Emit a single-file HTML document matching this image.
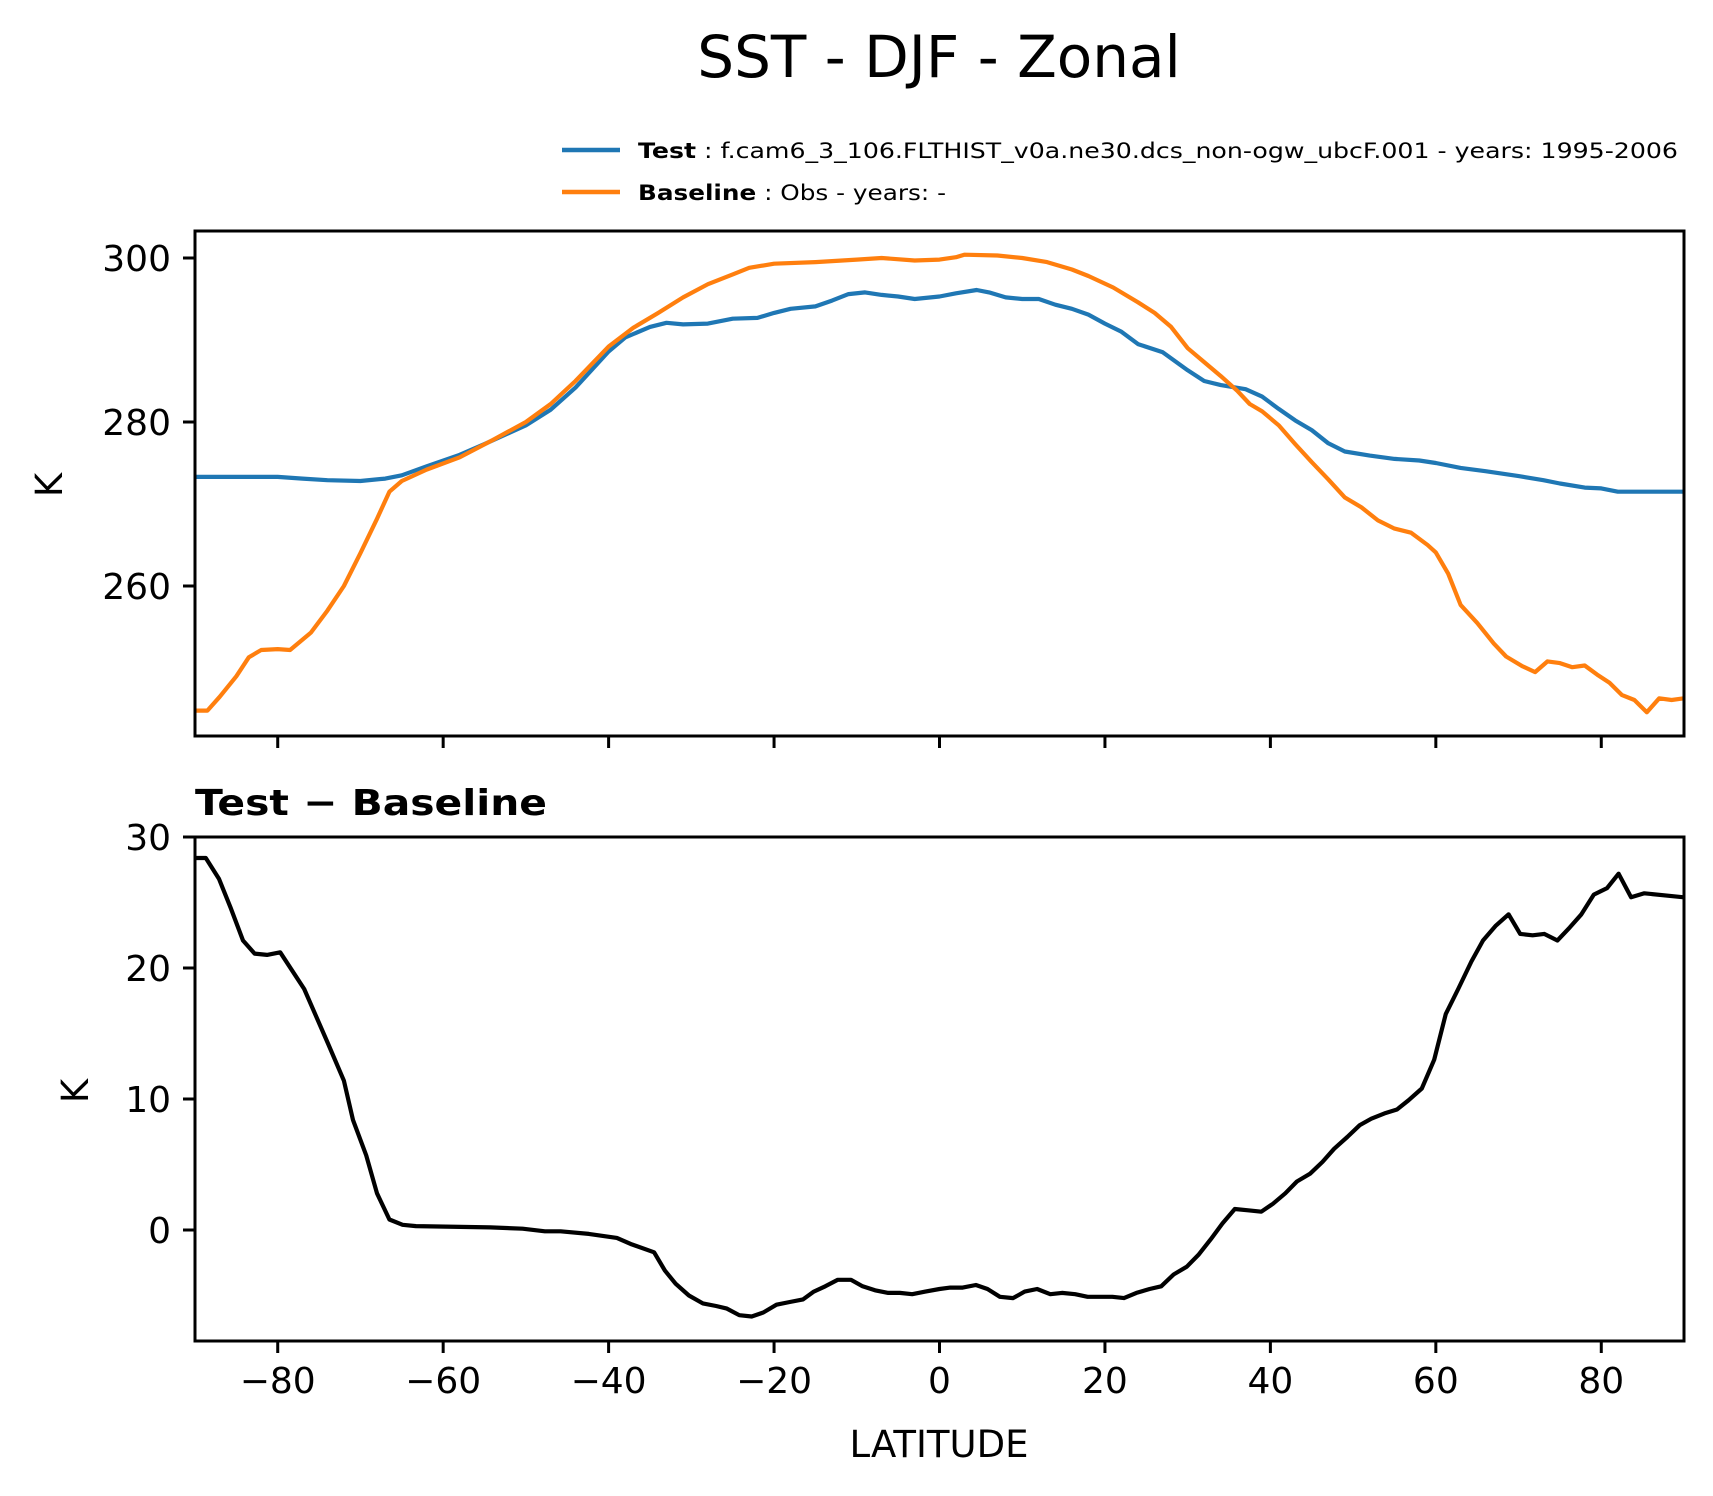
<!DOCTYPE html>
<html><head><meta charset="utf-8"><style>
html,body{margin:0;padding:0;background:#fff;}
svg{display:block;font-family:"DejaVu Sans","Liberation Sans",sans-serif;}
</style></head><body>
<svg id="chart" width="1713" height="1496" viewBox="0 0 1713 1496" xmlns="http://www.w3.org/2000/svg">
<rect width="1713" height="1496" fill="#fff"/>
<text x="939" y="77" font-size="58" text-anchor="middle">SST - DJF - Zonal</text>
<g>
<line x1="562" y1="150" x2="620" y2="150" stroke="#1f77b4" stroke-width="4.5"/>
<text x="638" y="158" font-size="21" textLength="1040" lengthAdjust="spacingAndGlyphs"><tspan font-weight="bold">Test</tspan> : f.cam6_3_106.FLTHIST_v0a.ne30.dcs_non-ogw_ubcF.001 - years: 1995-2006</text>
<line x1="562" y1="192" x2="620" y2="192" stroke="#ff7f0e" stroke-width="4.5"/>
<text x="638" y="200" font-size="21" textLength="308" lengthAdjust="spacingAndGlyphs"><tspan font-weight="bold">Baseline</tspan> : Obs - years: -</text>
</g>
<text x="195" y="815" font-size="36" font-weight="bold" textLength="352" lengthAdjust="spacingAndGlyphs">Test − Baseline</text>
<text x="939" y="1457" font-size="37" text-anchor="middle">LATITUDE</text>
<text transform="translate(62,485) rotate(-90)" font-size="37" text-anchor="middle">K</text>
<text transform="translate(88,1091) rotate(-90)" font-size="37" text-anchor="middle">K</text>
<g id="topPanel"></g>
<g id="botPanel"></g>
</svg>
<script>
const testLat=[-90,-80,-77,-74,-70,-67,-65,-62,-58,-55,-50,-47,-44,-40,-38,-35,-33,-31,-28,-25,-22,-20,-18,-15,-13,-11,-9,-7,-5,-3,0,2,4.5,6,8,10,12,14,16,18,20,22,24,27,30,32,34,37,39,41,43,45,47,49,52,55,58,60,63,66,70,73,75,78,80,82,90];
const testVal=[273.3,273.3,273.1,272.9,272.8,273.1,273.5,274.6,276.0,277.3,279.6,281.5,284.2,288.6,290.3,291.6,292.1,291.9,292.0,292.6,292.7,293.3,293.8,294.1,294.8,295.6,295.8,295.5,295.3,295.0,295.3,295.7,296.1,295.8,295.2,295.0,295.0,294.3,293.8,293.1,292.0,291.0,289.5,288.5,286.3,285.0,284.5,284.0,283.1,281.6,280.2,279.0,277.4,276.4,275.9,275.5,275.3,275.0,274.4,274.0,273.4,272.9,272.5,272.0,271.9,271.5,271.5];
const baseLat=[-90,-88.5,-87,-85,-83.5,-82,-80,-78.5,-76,-74,-72,-70,-68,-66.5,-65,-62,-58,-54,-50,-47,-44,-40,-37,-34,-31,-28,-25,-23,-20,-15,-10,-7,-3,0,2,3,7,10,13,16,18,21,24,26,28,30,32,34,36,37.5,39,41,43,45,47,49,51,53,55,57,59,60,61.5,63,65,67,68.5,70.5,72,73.5,75,76.5,78,79.5,81,82.5,84,85.5,87,88.5,90];
const baseVal=[244.8,244.8,246.5,249,251.3,252.2,252.3,252.2,254.3,257,260,264,268.2,271.5,272.8,274.2,275.7,277.8,280,282.2,285,289.2,291.5,293.3,295.2,296.8,298,298.8,299.3,299.5,299.8,300,299.7,299.8,300.1,300.4,300.3,300,299.5,298.6,297.8,296.4,294.6,293.3,291.6,289,287.3,285.6,283.8,282.2,281.3,279.6,277.3,275.1,273,270.8,269.6,268,267,266.5,265,264.1,261.5,257.7,255.5,253,251.4,250.2,249.5,250.8,250.6,250.1,250.3,249.2,248.2,246.7,246.1,244.6,246.3,246.1,246.3];
const diffLat=[-90,-88.7,-87.1,-85.7,-84.2,-82.8,-81.3,-79.7,-76.8,-73.9,-72,-70.9,-69.3,-68,-66.5,-64.9,-63.3,-54.3,-50.4,-47.7,-45.8,-42.4,-39,-37.2,-34.5,-33.2,-31.9,-30.3,-28.6,-27,-25.7,-24.2,-22.7,-21.3,-19.7,-18.1,-16.5,-15.2,-13.8,-12.3,-10.7,-9.3,-7.8,-6.2,-4.8,-3.3,-1.7,0,1.3,2.8,4.4,5.8,7.3,8.9,10.3,11.8,13.4,14.8,16.4,17.9,19.4,20.9,22.3,23.8,25.4,26.8,28.3,29.9,31.3,32.8,34.2,35.7,37.3,38.9,40.3,41.8,43.2,44.8,46.3,47.7,49.3,50.8,52.2,53.8,55.3,56.7,58.3,59.8,61.2,62.7,64.3,65.7,67.2,68.8,70.2,71.7,73.1,74.7,76.2,77.6,79.1,80.7,82.1,83.6,85.2,90];
const diffVal=[28.4,28.4,26.8,24.6,22.1,21.1,21.0,21.2,18.4,14.2,11.4,8.4,5.7,2.8,0.8,0.4,0.3,0.2,0.1,-0.1,-0.1,-0.3,-0.6,-1.1,-1.7,-3.1,-4.1,-5.0,-5.6,-5.8,-6.0,-6.5,-6.6,-6.3,-5.7,-5.5,-5.3,-4.7,-4.3,-3.8,-3.8,-4.3,-4.6,-4.8,-4.8,-4.9,-4.7,-4.5,-4.4,-4.4,-4.2,-4.5,-5.1,-5.2,-4.7,-4.5,-4.9,-4.8,-4.9,-5.1,-5.1,-5.1,-5.2,-4.8,-4.5,-4.3,-3.4,-2.8,-1.9,-0.7,0.5,1.6,1.5,1.4,2.0,2.8,3.7,4.3,5.2,6.2,7.1,8.0,8.5,8.9,9.2,9.9,10.8,13.0,16.5,18.4,20.5,22.1,23.2,24.1,22.6,22.5,22.6,22.1,23.1,24.1,25.6,26.1,27.2,25.4,25.7,25.4];
const xTicks=[-80,-60,-40,-20,0,20,40,60,80];
const topTicks=[260,280,300];
const botTicks=[0,10,20,30];

const NS="http://www.w3.org/2000/svg";
const X0=195,X1=1684;
function xs(v){return X0+(v+90)/180*(X1-X0);}
function yTop(v){return 258+(300-v)*8.2;}
function yBot(v){return 837+(30-v)*13.1;}
function mk(tag,attrs,parent){const e=document.createElementNS(NS,tag);for(const k in attrs)e.setAttribute(k,attrs[k]);parent.appendChild(e);return e;}
function drawLine(lats,vals,ys,color,parent,name){
  const d=lats.map((l,i)=>(i?'L':'M')+xs(l).toFixed(1)+','+ys(vals[i]).toFixed(1)).join('');
  const p=mk('path',{d:d,fill:'none',stroke:color,'stroke-width':4.2,'stroke-linejoin':'round'},parent);
  
  
}
function panel(g,yT,yB,ys,ticks,showLabels,prefix){
  const clipId=prefix+'clip';
  const cp=mk('clipPath',{id:clipId},g);mk('rect',{x:X0,y:yT,width:X1-X0,height:yB-yT},cp);
  const inner=mk('g',{'clip-path':'url(#'+clipId+')'},g);
  const frame=mk('rect',{x:X0,y:yT,width:X1-X0,height:yB-yT,fill:'none',stroke:'#000','stroke-width':3},g);
  
  
  ticks.forEach(t=>{
    const y=ys(t);
    const tk=mk('line',{x1:X0-12,x2:X0,y1:y,y2:y,stroke:'#000','stroke-width':3},g);
    
    
    const tx=mk('text',{x:X0-24,y:y+13,'font-size':36,'text-anchor':'end'},g);
    tx.textContent=t;
    
    
  });
  xTicks.forEach(t=>{
    const x=xs(t);
    const tk=mk('line',{x1:x,x2:x,y1:yB,y2:yB+12,stroke:'#000','stroke-width':3},g);
    
    
    if(showLabels){
      const tx=mk('text',{x:x,y:yB+52,'font-size':36,'text-anchor':'middle'},g);
      tx.textContent=(t<0?'\u2212'+(-t):String(t));
      
      
    }
  });
  return inner;
}
const topG=document.getElementById('topPanel'),botG=document.getElementById('botPanel');
const ti=panel(topG,231,736,yTop,topTicks,false,'top');
drawLine(testLat,testVal,yTop,'#1f77b4',ti,'test-line');
drawLine(baseLat,baseVal,yTop,'#ff7f0e',ti,'baseline-line');
const bi=panel(botG,837,1341,yBot,botTicks,true,'bottom');
drawLine(diffLat,diffVal,yBot,'#000',bi,'difference-line');
</script>
</body></html>
